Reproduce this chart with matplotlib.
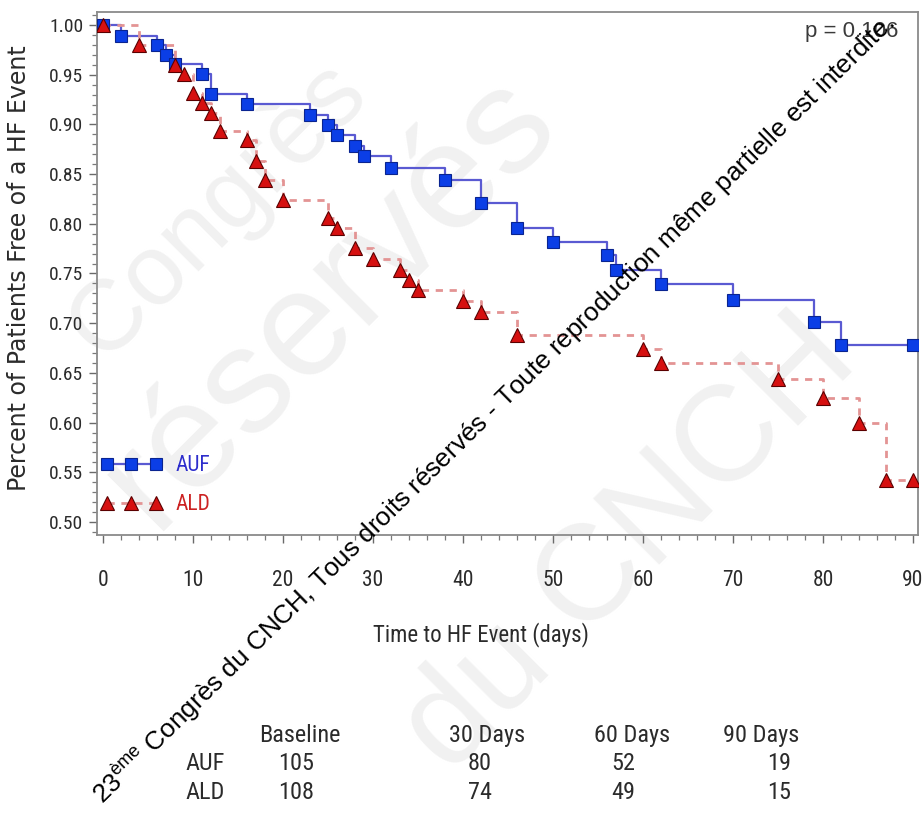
import matplotlib
matplotlib.use("Agg")
import os
import matplotlib.pyplot as plt
from matplotlib import font_manager
from matplotlib.font_manager import FontProperties
from matplotlib.lines import Line2D
from matplotlib.ticker import MultipleLocator, FormatStrFormatter

# ---- data -------------------------------------------------------------
auf_days = [0, 2, 6, 7, 8, 11, 12, 16, 23, 25, 26, 28, 29, 32, 38, 42, 46,
            50, 56, 57, 62, 70, 79, 82, 90]
auf_surv = [1.000, 0.989, 0.980, 0.970, 0.961, 0.951, 0.931, 0.921, 0.909,
            0.899, 0.889, 0.878, 0.868, 0.856, 0.844, 0.821, 0.796, 0.782,
            0.769, 0.754, 0.739, 0.723, 0.701, 0.678, 0.678]

ald_days = [0, 4, 8, 9, 10, 11, 12, 13, 16, 17, 18, 20, 25, 26, 28, 30, 33,
            34, 35, 40, 42, 46, 60, 62, 75, 80, 84, 87, 90]
ald_surv = [1.000, 0.980, 0.960, 0.951, 0.932, 0.922, 0.911, 0.893, 0.884,
            0.863, 0.844, 0.824, 0.806, 0.796, 0.776, 0.765, 0.754, 0.743,
            0.733, 0.722, 0.711, 0.688, 0.674, 0.660, 0.644, 0.625, 0.600,
            0.542, 0.542]

group_labels = ["AUF", "ALD"]
risk_headers = ["Baseline", "30 Days", "60 Days", "90 Days"]
risk_auf = ["105", "80", "52", "19"]
risk_ald = ["108", "74", "49", "15"]
p_text = "p = 0.106"

# ---- fonts ------------------------------------------------------------
REGULAR = "Liberation Sans"
TXT = "#2b2b2b"


def find_narrow_font():
    """Return the path of an upright, regular-weight narrow/condensed sans font."""
    preferred = ["Liberation Sans Narrow", "Arial Narrow", "Roboto Condensed",
                 "Noto Sans", "Open Sans", "DejaVu Sans", "Lato", "Inter"]
    found = []
    for f in font_manager.fontManager.ttflist:
        base = os.path.basename(f.fname).lower()
        is_narrow = ("narrow" in f.name.lower() or "condensed" in f.name.lower()
                     or f.stretch in ("condensed", "semi-condensed")
                     or "condensed" in base or "narrow" in base)
        if not is_narrow or f.style != "normal":
            continue
        if any(k in base for k in ("bold", "light", "thin", "black", "medium",
                                   "semibold", "extra", "italic", "oblique")):
            continue
        if "extra" in str(f.stretch) or "ultra" in str(f.stretch):
            continue
        rank = len(preferred)
        for i, p in enumerate(preferred):
            if f.name.startswith(p):
                rank = i
                break
        found.append((rank, f.fname))
    if found:
        found.sort()
        return found[0][1]
    return None


_narrow_path = find_narrow_font()


def narrow(size):
    if _narrow_path:
        return FontProperties(fname=_narrow_path, size=size)
    return FontProperties(family=REGULAR, size=size * 0.9)


# ---- figure -----------------------------------------------------------
W, H = 924, 822
fig = plt.figure(figsize=(W / 100, H / 100), dpi=100)
fig.patch.set_facecolor("white")


def fx(px):
    return px / W


def fy(py):
    return 1 - py / H


# large pale background lettering (drawn beneath everything)
for word, cx, cy, size in [("Congrès", 218, 210, 72),
                           ("réservés", 330, 300, 108),
                           ("du CNCH", 630, 545, 98)]:
    fig.text(fx(cx), fy(cy), word, rotation=45, rotation_mode="anchor",
             ha="center", va="center", fontsize=size, family=REGULAR,
             color="#f1f1f1", zorder=-5)

ax = fig.add_axes([fx(97), fy(535), fx(918) - fx(97), fy(12) - fy(535)])
ax.set_facecolor("none")
ax.set_xlim(-6 / 9, 90 + 5 / 9)
ax.set_ylim(0.5 - 13 / 994, 1.0 + 13 / 994)

AUF_LINE = "#5a5ad2"
AUF_FACE = "#0b3ee6"
AUF_EDGE = "#0a2490"
ALD_LINE = "#e39494"
ALD_FACE = "#d61010"
ALD_EDGE = "#5a0000"
ald_dash = (0, (2.6, 2.4))

ax.step(auf_days, auf_surv, where="post", color=AUF_LINE, lw=1.6, zorder=2)
ax.plot(auf_days, auf_surv, ls="none", marker="s", ms=9,
        mfc=AUF_FACE, mec=AUF_EDGE, mew=0.8, zorder=4)

ax.step(ald_days, ald_surv, where="post", color=ALD_LINE, lw=2.0,
        ls=ald_dash, zorder=2)
ax.plot(ald_days, ald_surv, ls="none", marker="^", ms=9.5,
        mfc=ALD_FACE, mec=ALD_EDGE, mew=0.8, zorder=5)

# axes styling
for sp in ax.spines.values():
    sp.set_color("#8a8a8a")
    sp.set_linewidth(1.3)

ax.xaxis.set_major_locator(MultipleLocator(10))
ax.xaxis.set_minor_locator(MultipleLocator(2))
ax.yaxis.set_major_locator(MultipleLocator(0.05))
ax.yaxis.set_minor_locator(MultipleLocator(0.01))
ax.yaxis.set_major_formatter(FormatStrFormatter("%.2f"))

ax.tick_params(axis="both", which="major", direction="out", length=6,
               width=1.0, color="#6a6a6a", labelcolor=TXT)
ax.tick_params(axis="both", which="minor", direction="out", length=3.5,
               width=0.9, color="#7a7a7a")
ax.tick_params(axis="x", which="major", pad=19)
ax.tick_params(axis="y", which="major", pad=4)
for lab in ax.get_xticklabels():
    lab.set_fontproperties(narrow(15.5))
for lab in ax.get_yticklabels():
    lab.set_fontproperties(narrow(14))

# p-value
ax.text(0.976, 0.962, p_text, transform=ax.transAxes, ha="right",
        va="center", fontsize=16, family=REGULAR, color="#3a3a3a")

# legend
handles = [
    Line2D([], [], color=AUF_LINE, lw=1.6, marker="s", ms=9,
           mfc=AUF_FACE, mec=AUF_EDGE, mew=0.8),
    Line2D([], [], color=ALD_LINE, lw=2.0, ls=ald_dash, marker="^", ms=9.5,
           mfc=ALD_FACE, mec=ALD_EDGE, mew=0.8),
]
leg = ax.legend(handles, group_labels, loc="center left",
                bbox_to_anchor=(0.0, 0.095), frameon=False, numpoints=3,
                handlelength=2.9, handletextpad=0.58, labelspacing=0.85,
                borderpad=0.15, borderaxespad=0.0,
                prop=narrow(15.5),
                labelcolor=["#2e2ecc", "#cc2222"])

# axis titles
fig.text(fx(19), fy(268), "Percent of Patients Free of a HF Event",
         rotation=90, ha="center", va="center", fontsize=17,
         family="DejaVu Sans", color=TXT)
fig.text(fx(481), fy(635), "Time to HF Event (days)", ha="center",
         va="center", fontproperties=narrow(16.5), color=TXT)

# number-at-risk table
header_x = [300, 487, 632, 761]
value_x = [296, 480, 623, 779]
for hx, h in zip(header_x, risk_headers):
    fig.text(fx(hx), fy(735), h, ha="center", va="center",
             fontproperties=narrow(17.5), color=TXT)
for row_y, name, vals in [(763, group_labels[0], risk_auf),
                          (792, group_labels[1], risk_ald)]:
    fig.text(fx(205), fy(row_y), name, ha="center", va="center",
             fontproperties=narrow(17.5), color=TXT)
    for vx, v in zip(value_x, vals):
        fig.text(fx(vx), fy(row_y), v, ha="center", va="center",
                 fontproperties=narrow(17.5), color=TXT)

# copyright line across the figure
fig.text(fx(493), fy(409),
         "23$^{\\mathregular{ème}}$ Congrès du CNCH, Tous droits réservés - "
         "Toute reproduction même partielle est interdite.",
         rotation=44.5, rotation_mode="anchor", ha="center", va="center",
         fontsize=18.8, family=REGULAR, color="black", zorder=10)

fig.savefig("out.png", dpi=100, facecolor="white")
